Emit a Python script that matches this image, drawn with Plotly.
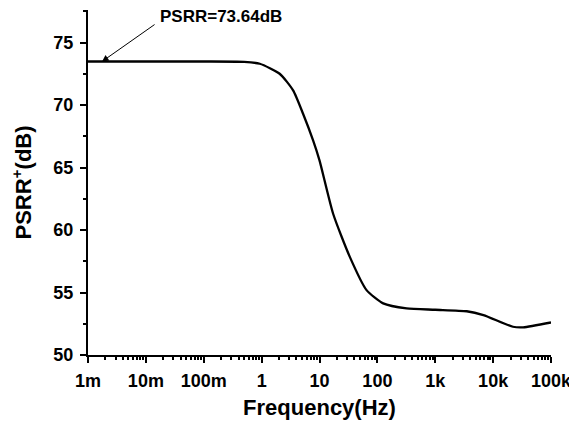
import plotly.graph_objects as go
import numpy as np

# PSRR+ vs frequency
freq = [1e-3, 0.01, 0.1, 0.5, 0.93, 2.05, 3.5, 5.2, 7.75, 10, 17.2, 33.4, 65,
        126, 320, 1000, 3500, 6800, 22000, 33000, 100000]
psrr = [73.48, 73.48, 73.48, 73.45, 73.3, 72.5, 71.17, 69.3, 67.17, 65.57, 61.3,
        57.85, 55.19, 54.13, 53.73, 53.62, 53.5, 53.19, 52.26, 52.21, 52.6]

x_tickvals = [1e-3, 1e-2, 1e-1, 1, 10, 100, 1e3, 1e4, 1e5]
x_ticktext = ["1m", "10m", "100m", "1", "10", "100", "1k", "10k", "100k"]
y_tickvals = [50, 55, 60, 65, 70, 75]

FONT = "Arial, Liberation Sans, sans-serif"

fig = go.Figure()

fig.add_trace(go.Scatter(
    x=freq, y=psrr, mode="lines",
    line=dict(color="black", width=2.3, shape="spline", smoothing=0.6),
    showlegend=False
))

# minor ticks at 2..9 of every decade
minor_x = [m * 10.0 ** d for d in range(-3, 5) for m in range(2, 10)]

# page body adds an 8px offset, so the figure is a bit smaller than the window
fig.update_layout(
    width=569, height=423,
    margin=dict(l=80, r=26, t=2, b=76),
    paper_bgcolor="white", plot_bgcolor="white",
    font=dict(family=FONT, color="black"),
    xaxis=dict(
        type="log", range=[-3, 5], automargin=False,
        tickvals=x_tickvals, ticktext=x_ticktext,
        tickfont=dict(size=18, family=FONT, weight="bold"),
        ticks="outside", ticklen=6, tickwidth=2, tickcolor="black",
        ticklabelstandoff=2,
        minor=dict(tickvals=minor_x, ticks="outside", ticklen=3, tickwidth=1.5, tickcolor="black"),
        showline=True, linecolor="black", linewidth=2,
        showgrid=False, zeroline=False,
        title=dict(text="Frequency(Hz)", font=dict(size=22, family=FONT, weight="bold"), standoff=10),
    ),
    yaxis=dict(
        range=[50, 77.6], automargin=False,
        tickvals=y_tickvals,
        tickfont=dict(size=18, family=FONT, weight="bold"),
        ticks="outside", ticklen=6, tickwidth=2, tickcolor="black",
        ticklabelstandoff=3,
        minor=dict(dtick=2.5, ticks="outside", ticklen=3, tickwidth=1.5, tickcolor="black"),
        showline=True, linecolor="black", linewidth=2,
        showgrid=False, zeroline=False,
        title=dict(text="PSRR<sup>+</sup>(dB)", font=dict(size=22, family=FONT, weight="bold"), standoff=16),
    ),
)

# arrow pointing at the flat band
fig.add_annotation(
    x=np.log10(0.00175), y=73.48, xref="x", yref="y",
    ax=54, ay=-38, text="", showarrow=True,
    arrowhead=2, arrowsize=1.3, arrowwidth=1, arrowcolor="black",
)
fig.add_annotation(
    x=(158 - 88) / 463, y=0.982, xref="paper", yref="paper",
    xanchor="left", yanchor="middle", showarrow=False,
    text="PSRR=73.64dB", font=dict(size=17, family=FONT, weight="bold", color="black"),
)

fig.write_html("out.html")
